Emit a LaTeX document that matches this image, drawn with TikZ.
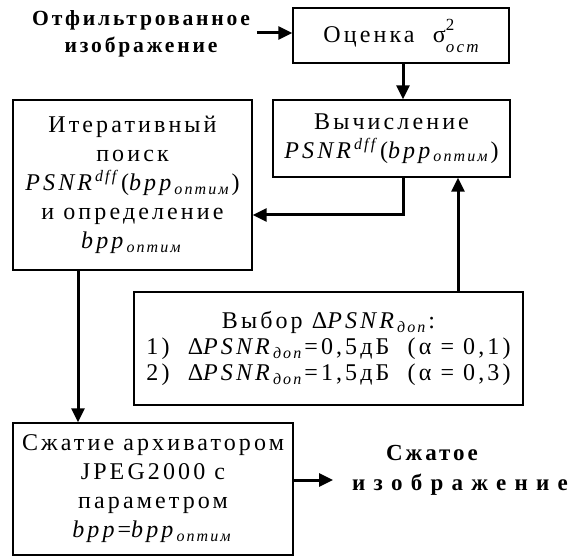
\documentclass[tikz,border=0pt]{standalone}
\usepackage{fontspec}
\setmainfont{Liberation Serif}[LetterSpace=13]
\usetikzlibrary{arrows,arrows.meta,positioning,calc}
\newcommand{\opt}{\textit{bpp}\textsubscript{\textit{оптим}}}
\newcommand{\psnr}{\textit{PSNR}\textsuperscript{\textit{dff}}}
\newcommand{\dpsnr}{Δ\textit{PSNR}\textsubscript{\textit{доп}}}
\newcommand{\sigost}{σ\rlap{\raisebox{0.52em}{\fontsize{8.5}{8.5}\selectfont 2}}\raisebox{-0.4em}{\fontsize{8.5}{8.5}\selectfont\itshape ост}}

\begin{document}
\begin{tikzpicture}[x=0.5pt,y=-0.5pt,font=\fontsize{12}{14.5}\selectfont,align=center,
  blok/.style={draw,line width=0.7pt,inner sep=0pt},
  arr/.style={line width=1.5pt,-{Triangle[length=7pt,width=6.5pt]}},
  vvod/.style={font=\fontsize{10.8}{13.5}\selectfont\bfseries}]
   \useasboundingbox (0,0) rectangle (579,556);
   % bloki
   \node[blok,minimum width=108pt,minimum height=27.5pt] (ocenka) at (401,35.5) {Оценка ~\sigost};
   \node[blok,minimum width=118.5pt,minimum height=38.5pt] (vychisl) at (391.5,138.5) {Вычисление\\ \psnr(\opt)};
   \node[blok,minimum width=119.5pt,minimum height=85pt] (iter) at (132.5,185) {Итеративный\\ поиск\\ \psnr(\opt)\\ и определение\\ \opt};
   \node[blok,minimum width=194.5pt,minimum height=56.5pt,font=\fontsize{12}{13}\selectfont] (vybor) at (328.5,348.5) {Выбор \dpsnr:\\ 1)~~\dpsnr=0,5дБ ~(α = 0,1)\\ 2)~~\dpsnr=1,5дБ ~(α = 0,3)};
   \node[blok,minimum width=140pt,minimum height=66pt] (szhatie) at (153,489) {Сжатие архиватором\\ JPEG2000 с\\ параметром\\ \textit{bpp}=\opt};
   % vhod i vyhod
   \node[vvod] (vhod) at (141,34) {Отфильтрованное\\ изображение};
   \node[vvod,font=\fontsize{11.5}{15}\selectfont\bfseries] (vyhod) at (460,470) {Сжатое\hspace{28pt}\mbox{}\\ {\addfontfeature{LetterSpace=36}изображение}};
   \coordinate (vyh) at (333,480);
   % strelki
   \draw[arr] (vhod.east |- 0,33) -- (ocenka.west |- 0,33);
   \draw[arr] ($(ocenka.south)+(2,0)$) -- ($(vychisl.north)+(11.5,0)$);
   \draw[arr] ($(vychisl.south)+(11.5,0)$) |- ($(iter.east)+(0,30)$);
   \draw[arr] ($(vybor.north)+(129.5,0)$) -- ($(vychisl.south)+(66.5,0)$);
   \draw[arr] ($(iter.south)+(-54.5,0)$) -- ($(szhatie.north)+(-75,0)$);
   \draw[arr] (szhatie.east |- vyh) -- (vyh);
\end{tikzpicture}
\end{document}
